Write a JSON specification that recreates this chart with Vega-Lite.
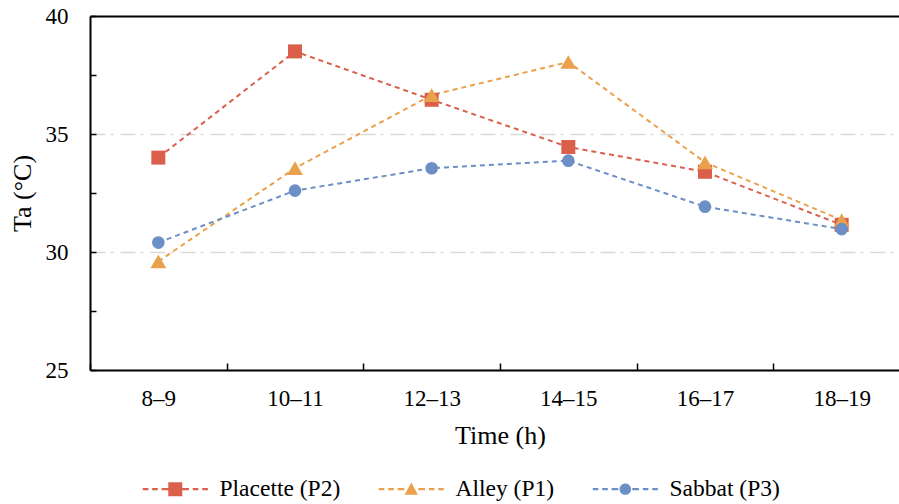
{
  "$schema": "https://vega.github.io/schema/vega-lite/v6.json",
  "width": 809,
  "height": 354,
  "autosize": "none",
  "padding": {"left": 90, "top": 16, "right": 0, "bottom": 134},
  "background": "white",
  "config": {
    "view": {"stroke": null},
    "font": "Liberation Serif",
    "axis": {
      "labelFont": "Liberation Serif",
      "titleFont": "Liberation Serif",
      "labelColor": "#000000",
      "titleColor": "#000000",
      "titleFontWeight": "normal",
      "domainColor": "#000000",
      "tickColor": "#000000"
    },
    "legend": {"labelFont": "Liberation Serif"}
  },
  "data": {
    "values": [
      {"time": "8–9", "site": "Placette (P2)", "ta": 34.0},
      {"time": "10–11", "site": "Placette (P2)", "ta": 38.5},
      {"time": "12–13", "site": "Placette (P2)", "ta": 36.45},
      {"time": "14–15", "site": "Placette (P2)", "ta": 34.45},
      {"time": "16–17", "site": "Placette (P2)", "ta": 33.4},
      {"time": "18–19", "site": "Placette (P2)", "ta": 31.15},
      {"time": "8–9", "site": "Alley (P1)", "ta": 29.6},
      {"time": "10–11", "site": "Alley (P1)", "ta": 33.55},
      {"time": "12–13", "site": "Alley (P1)", "ta": 36.65},
      {"time": "14–15", "site": "Alley (P1)", "ta": 38.05},
      {"time": "16–17", "site": "Alley (P1)", "ta": 33.8},
      {"time": "18–19", "site": "Alley (P1)", "ta": 31.35},
      {"time": "8–9", "site": "Sabbat (P3)", "ta": 30.4},
      {"time": "10–11", "site": "Sabbat (P3)", "ta": 32.6},
      {"time": "12–13", "site": "Sabbat (P3)", "ta": 33.55},
      {"time": "14–15", "site": "Sabbat (P3)", "ta": 33.87},
      {"time": "16–17", "site": "Sabbat (P3)", "ta": 31.92},
      {"time": "18–19", "site": "Sabbat (P3)", "ta": 30.97}
    ]
  },
  "encoding": {
    "x": {
      "field": "time",
      "type": "ordinal",
      "sort": ["8–9", "10–11", "12–13", "14–15", "16–17", "18–19"],
      "scale": {"type": "band", "paddingInner": 0, "paddingOuter": 0, "range": [0, 820]},
      "axis": {
        "title": "Time (h)",
        "labelAngle": 0,
        "labelFont": "Liberation Serif",
        "titleFont": "Liberation Serif",
        "labelFontSize": 23,
        "titleFontSize": 26,
        "tickBand": "extent",
        "tickSize": -7,
        "tickWidth": 1.5,
        "domainWidth": 2,
        "labelPadding": 24,
        "titlePadding": 12,
        "grid": false
      }
    },
    "y": {
      "field": "ta",
      "type": "quantitative",
      "scale": {"domain": [25, 40], "nice": false, "zero": false},
      "axis": {
        "title": "Ta (°C)",
        "values": [25, 27.5, 30, 32.5, 35, 37.5, 40],
        "labelExpr": "datum.value % 5 === 0 ? datum.label : ''",
        "labelFont": "Liberation Serif",
        "titleFont": "Liberation Serif",
        "labelFontSize": 23,
        "titleFontSize": 26,
        "tickSize": -6,
        "tickWidth": 1.5,
        "domainWidth": 2,
        "labelPadding": 28,
        "titlePadding": 10,
        "grid": true,
        "gridColor": {"condition": {"test": "datum.value === 40", "value": "#000000"}, "value": "#D9D9D9"},
        "gridDash": {"condition": {"test": "datum.value === 40", "value": []}, "value": [15, 5, 3, 7]},
        "gridWidth": {"condition": {"test": "datum.value === 40", "value": 2}, "value": 1.5},
        "gridOpacity": {"condition": {"test": "datum.value % 5 === 0 && datum.value > 25", "value": 1}, "value": 0}
      }
    },
    "color": {
      "field": "site",
      "type": "nominal",
      "scale": {
        "domain": ["Placette (P2)", "Alley (P1)", "Sabbat (P3)"],
        "range": ["#DA604C", "#E9A24B", "#6C8FC6"]
      },
      "legend": {
        "title": null,
        "orient": "none",
        "legendX": 41,
        "legendY": 461,
        "direction": "horizontal",
        "padding": 0,
        "labelFont": "Liberation Serif",
        "labelFontSize": 23.5,
        "labelColor": "#000000",
        "symbolSize": 196,
        "symbolStrokeWidth": 0,
        "labelOffset": 65,
        "columnPadding": 26,
        "encode": {
          "symbols": {
            "update": {
              "shape": {"signal": "datum.value === 'Placette (P2)' ? 'M0,-0.15H0.8V0.15H0Z M1.35,-0.15H2.15V0.15H1.35Z M2.7,-0.15H3.65V0.15H2.7Z M5.65,-0.15H6.6V0.15H5.65Z M7.15,-0.15H7.95V0.15H7.15Z M8.5,-0.15H9.3V0.15H8.5Z M3.65,-1H5.65V1H3.65Z' : datum.value === 'Alley (P1)' ? 'M0,-0.15H0.8V0.15H0Z M1.35,-0.15H2.15V0.15H1.35Z M2.7,-0.15H3.65V0.15H2.7Z M5.65,-0.15H6.6V0.15H5.65Z M7.15,-0.15H7.95V0.15H7.15Z M8.5,-0.15H9.3V0.15H8.5Z M4.65,-0.95L5.6,0.8L3.7,0.8Z' : 'M0,-0.15H0.8V0.15H0Z M1.35,-0.15H2.15V0.15H1.35Z M2.7,-0.15H3.65V0.15H2.7Z M5.65,-0.15H6.6V0.15H5.65Z M7.15,-0.15H7.95V0.15H7.15Z M8.5,-0.15H9.3V0.15H8.5Z M5.47,0A0.82,0.82 0 1,1 3.83,0A0.82,0.82 0 1,1 5.47,0Z'"},
              "strokeWidth": {"value": 0},
              "opacity": {"value": 1}
            }
          }
        }
      }
    }
  },
  "layer": [
    {
      "mark": {"type": "line", "strokeDash": [5, 4], "strokeWidth": 2}
    },
    {
      "transform": [{"filter": "datum.site === 'Placette (P2)'"}],
      "mark": {"type": "point", "filled": true, "size": 196, "opacity": 1, "shape": "square"}
    },
    {
      "transform": [{"filter": "datum.site === 'Alley (P1)'"}],
      "mark": {"type": "point", "filled": true, "size": 250, "opacity": 1, "shape": "triangle-up"}
    },
    {
      "transform": [{"filter": "datum.site === 'Sabbat (P3)'"}],
      "mark": {"type": "point", "filled": true, "size": 160, "opacity": 1, "shape": "circle"}
    }
  ]
}
